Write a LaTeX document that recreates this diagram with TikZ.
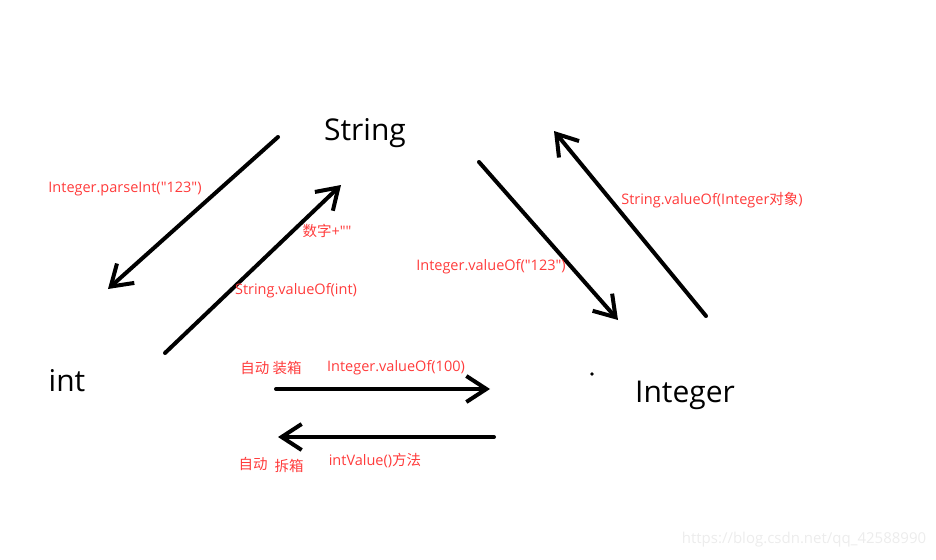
\documentclass[tikz,border=0pt]{standalone}
\usepackage{fontspec}
\setmainfont{Open Sans}
\newfontfamily\latin{Open Sans}
\newfontfamily\cjk{Noto Sans CJK SC}
\usepackage{tikz}
\usetikzlibrary{arrows.meta, positioning}
\usepackage{xcolor}
\definecolor{lblRed}{HTML}{FF3B3B}
\definecolor{wmGray}{HTML}{ECECEC}
\tikzstyle{tnode} = [%
  inner sep=0pt,
  text=black,
  font=\latin\fontsize{30}{33}\selectfont
]
\tikzstyle{lbl} = [%
  inner sep=0pt,
  text=lblRed,
  font=\latin\fontsize{14.5}{17}\selectfont
]

\begin{document}
\begin{tikzpicture}[%
  x=1pt, y=-1pt,
  stroke/.style={%
    -{Straight Barb[length=20pt,width=26pt,line width=4pt]},
    line width=4pt,
    line cap=round,
    black
  }
]
  \useasboundingbox (0,0) rectangle (936,559);

  % Nodes
  \node[tnode] (String) at (365,133) {String};
  \node[tnode] (int) at (67,381) {int};
  \node[tnode] (Integer) at (685,395) {Integer};
  \fill (592,374) circle (1.8pt);

  % Arrow ends
  \coordinate (s1) at (278,137);  \coordinate (i1) at (108,289);
  \coordinate (i2) at (165,353);  \coordinate (s2) at (341,185);
  \coordinate (s3) at (479,162);  \coordinate (g3) at (618,320);
  \coordinate (g4) at (706,316);  \coordinate (s4) at (554,131);
  \coordinate (i5) at (276,389);  \coordinate (g5) at (490,389);
  \coordinate (g6) at (494,437);  \coordinate (i6) at (278,437);

  % Edges
  \draw[stroke] (s1) -- (i1);
  \draw[stroke] (i2) -- (s2);
  \draw[stroke] (s3) -- (g3);
  \draw[stroke] (g4) -- (s4);
  \draw[stroke] (i5) -- (g5);
  \draw[stroke] (g6) -- (i6);

  % Labels
  \node[lbl] (l1) at (125,189) {Integer.parseInt("123")};
  \node[lbl] (l2a) at (327,231) {{\cjk 数字}+""};
  \node[lbl] (l2b) at (296,291) {String.valueOf(int)};
  \node[lbl] (l3) at (491,267) {Integer.valueOf("123")};
  \node[lbl] (l4) at (712,200) {String.valueOf(Integer{\cjk 对象})};
  \node[lbl] (l5a) at (271,368) {\cjk 自动\ 装箱};
  \node[lbl] (l5b) at (396,368) {Integer.valueOf(100)};
  \node[lbl] (l6a) at (253,464) {\cjk 自动};
  \node[lbl] (l6b) at (289,466) {\cjk 拆箱};
  \node[lbl] (l6c) at (375,461) {intValue(){\cjk 方法}};

  % Watermark
  \node[inner sep=0pt,text=wmGray,font=\latin\fontsize{15}{18}\selectfont] (wm) at (804,540) {https://blog.csdn.net/qq\_42588990};
\end{tikzpicture}
\end{document}
